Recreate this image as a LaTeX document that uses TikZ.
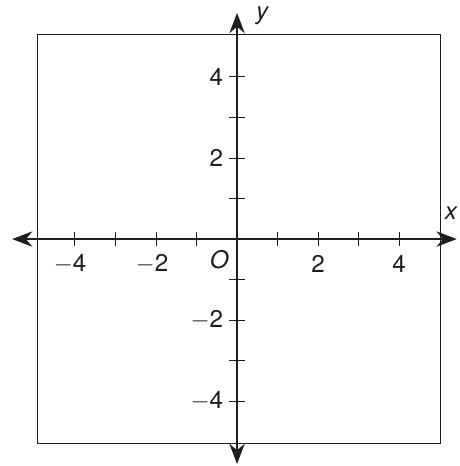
\documentclass[tikz,border=0pt]{standalone}
\usepackage{fontspec}
\setmainfont{TeX Gyre Heros}
\usetikzlibrary{arrows.meta}
\definecolor{ink}{HTML}{1E1E1E}

\begin{document}
\begin{tikzpicture}[
  font=\fontsize{17}{19}\selectfont,
  text=ink,
  frame/.style={draw=ink,line width=0.8pt},
  axis/.style={{Stealth[length=5mm,width=3.8mm,inset=1.6mm]}-{Stealth[length=5mm,width=3.8mm,inset=1.6mm]},
    draw=ink,line width=1pt},
  tickmark/.style={draw=ink,line width=0.7pt},
  num/.style={inner sep=1pt},
  var/.style={font=\itshape\fontsize{17}{19}\selectfont,inner sep=1pt}
]
\useasboundingbox (-5.85,-5.6) rectangle (5.48,5.9);
\draw[frame] (-4.92,-5.05) rectangle (5.02,5.05);
% axes
\coordinate (xleft) at (-5.55,0);
\coordinate (xright) at (5.42,0);
\coordinate (ydown) at (0,-5.55);
\coordinate (yup) at (0,5.58);
\draw[axis] (xleft) -- (xright);
\draw[axis] (ydown) -- (yup);
\node[var] (ylabel) at (0.62,5.52) {y};
\node[var] (xlabel) at (5.28,0.64) {x};
% ticks
\foreach \k in {-4,...,-1,1,2,...,4} {
  \draw[tickmark] (\k,-0.17) -- (\k,0.17);
  \draw[tickmark] (-0.2,\k) -- (0.2,\k);
}
\foreach \k/\p/\t in {a/-4.12/$-$4,b/-2.1/$-$2,c/2/2,d/4/4}
  \node[num] (xn\k) at (\p,-0.62) {\t};
\foreach \k/\p/\t in {a/4/4,b/2/2,c/-2/$-$2,d/-4/$-$4}
  \node[num,anchor=east] (yn\k) at (-0.3,\p) {\t};
\node[var] (origin) at (-0.44,-0.5) {O};
\end{tikzpicture}
\end{document}
